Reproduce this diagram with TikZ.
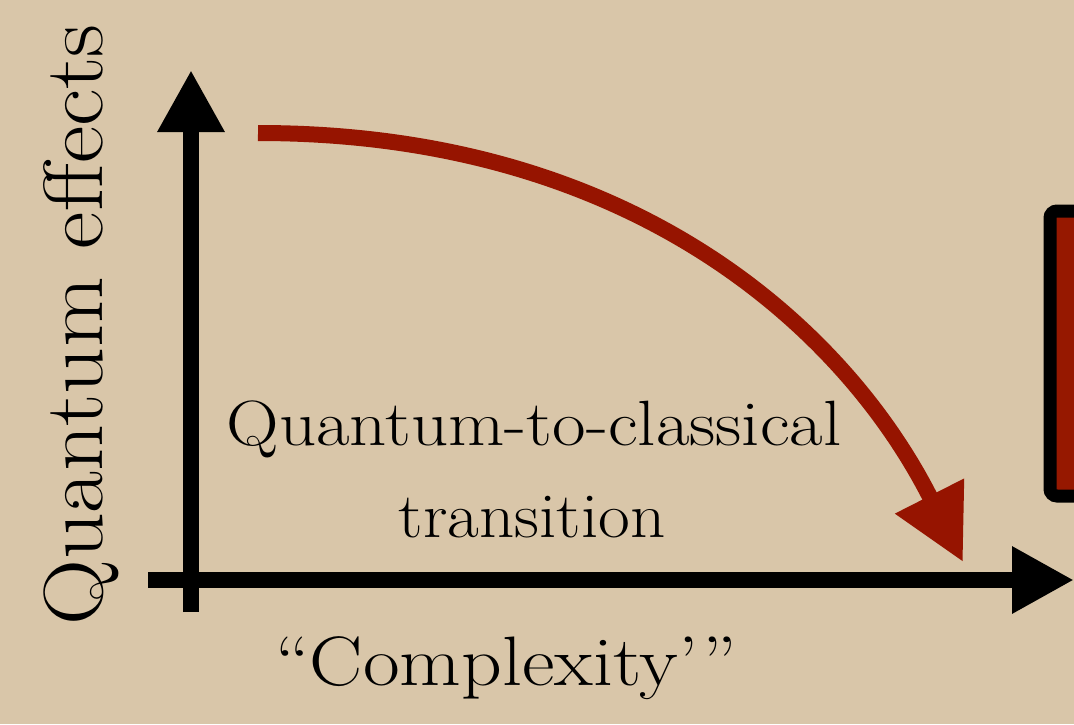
\documentclass[tikz,border=0pt]{standalone}
\usepackage{fontspec}
\usetikzlibrary{arrows.meta}
\definecolor{parch}{HTML}{D9C6A9}
\definecolor{qred}{HTML}{961400}
\definecolor{boxred}{HTML}{961800}
\tikzset{
  axis/.style={line width=16pt, -{Triangle[length=62pt,width=63pt]}},
  flow/.style={draw=qred, line width=16pt, -{Triangle[length=74pt,width=73pt]}},
  lbl/.style={inner sep=0pt, anchor=base, text=black},
}
\begin{document}
\begin{tikzpicture}[x=1pt,y=-1pt]
\useasboundingbox (0,0) rectangle (1074,724);
\clip (0,0) rectangle (1074,724);
\fill[parch] (0,0) rectangle (1074,724);
% partial red box at right edge
\draw[line width=13pt, rounded corners=7pt, fill=boxred] (1050,211) rectangle (1110,496);
% axes
\coordinate (yb) at (191,612);
\coordinate (yt) at (191,70);
\coordinate (xl) at (148,580);
\coordinate (xr) at (1074,580);
\draw[axis] (yb) -- (yt);
\draw[axis] (xl) -- (xr);
% transition arrow
\coordinate (s) at (258,133);
\coordinate (m) at (930,497);
\coordinate (e) at (963,562);
\draw[flow] (s) .. controls (638,133) and (847,334) .. (m) -- (e);
% labels
\node[lbl, rotate=90] (qe) at (102,325) {\scalebox{1.09}[1]{\fontsize{84}{90}\selectfont Quantum effects}};
\node[lbl] (qc) at (534,445) {\scalebox{1.14}[1]{\fontsize{64}{70}\selectfont Quantum-to-classical}};
\node[lbl] (tr) at (532,537) {\scalebox{1.08}[1]{\fontsize{64}{70}\selectfont transition}};
\node[lbl] (cx) at (506,685) {\scalebox{1.14}[1]{\fontsize{70}{76}\selectfont “Complexity’”}};
\end{tikzpicture}
\end{document}
